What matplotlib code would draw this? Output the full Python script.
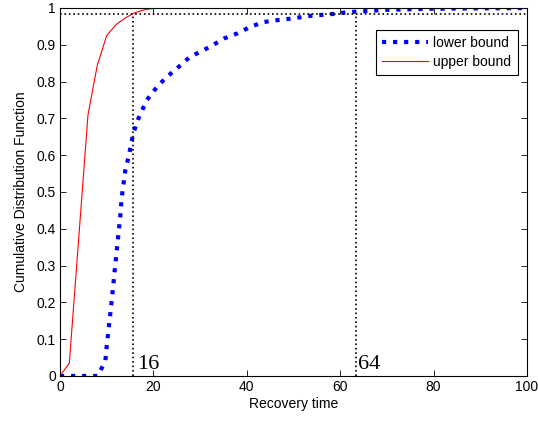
import matplotlib
matplotlib.use('Agg')
import matplotlib.pyplot as plt

plt.rcParams['font.family'] = ['Liberation Sans', 'DejaVu Sans']

# --- DATA ---
upper_x = [0, 2, 6, 8, 10, 12, 14, 16, 18, 20, 22, 24]
upper_y = [0, 0.035, 0.71, 0.845, 0.925, 0.955, 0.973, 0.987, 0.995, 0.999, 1.0, 1.0]

lower_x = [0, 8, 9.7, 10, 11.1, 11.8, 12.9, 13.2, 14, 14.7, 15.7, 16.8, 18.6, 20.8,
           22.9, 24.7, 27.9, 29.4, 32.2, 35.1, 38, 40.8, 43.7, 46.5, 50.1, 53,
           55.9, 58.7, 61.2, 63.3, 70, 80, 90, 100]
lower_y = [0, 0, 0.039, 0.08, 0.207, 0.297, 0.433, 0.483, 0.56, 0.596, 0.66, 0.70,
           0.75, 0.786, 0.813, 0.832, 0.868, 0.877, 0.895, 0.917, 0.931, 0.949,
           0.962, 0.967, 0.972, 0.978, 0.981, 0.984, 0.988, 0.99, 0.995, 0.998,
           0.999, 1.0]

level = 0.985
marks = [15.7, 63.3]
mark_labels = ['16', '64']
mark_text_x = [16.5, 63.9]

# --- PLOTTING ---
fig = plt.figure(figsize=(5.38, 4.21), dpi=100)
ax = fig.add_axes([0.1115, 0.107, 0.868, 0.874])

ax.plot(lower_x, lower_y, color='blue', linestyle=':', linewidth=3, label='lower bound')
ax.plot(upper_x, upper_y, color='red', linewidth=0.8, label='upper bound')

ax.plot([0, 100], [level, level], color='black', linestyle=':', linewidth=1.2)
for m, lab, tx in zip(marks, mark_labels, mark_text_x):
    ax.plot([m, m], [0, level], color='black', linestyle=':', linewidth=1.2)
    ax.text(tx, 0.02, lab, family='Liberation Serif', fontsize=16,
            ha='left', va='baseline')

ax.set_xlim(0, 100)
ax.set_ylim(0, 1)
ax.set_xticks([0, 20, 40, 60, 80, 100])
ax.set_yticks([0, 0.1, 0.2, 0.3, 0.4, 0.5, 0.6, 0.7, 0.8, 0.9, 1])
ax.set_yticklabels(['0', '0.1', '0.2', '0.3', '0.4', '0.5', '0.6', '0.7', '0.8', '0.9', '1'])
ax.tick_params(direction='in', top=True, right=True, labelsize=10, length=4, width=0.6,
               pad=3)
for s in ax.spines.values():
    s.set_linewidth(0.8)

ax.set_xlabel('Recovery time', fontsize=10, labelpad=2)
ax.set_ylabel('Cumulative Distribution Function', fontsize=10, labelpad=6)

leg = ax.legend(loc='upper right', bbox_to_anchor=(0.995, 0.96), fontsize=10,
                fancybox=False, framealpha=1, edgecolor='black', borderpad=0.45,
                handlelength=3.3, handletextpad=0.4, labelspacing=0.35)
leg.get_frame().set_linewidth(0.8)

fig.savefig('out.png', dpi=100)
